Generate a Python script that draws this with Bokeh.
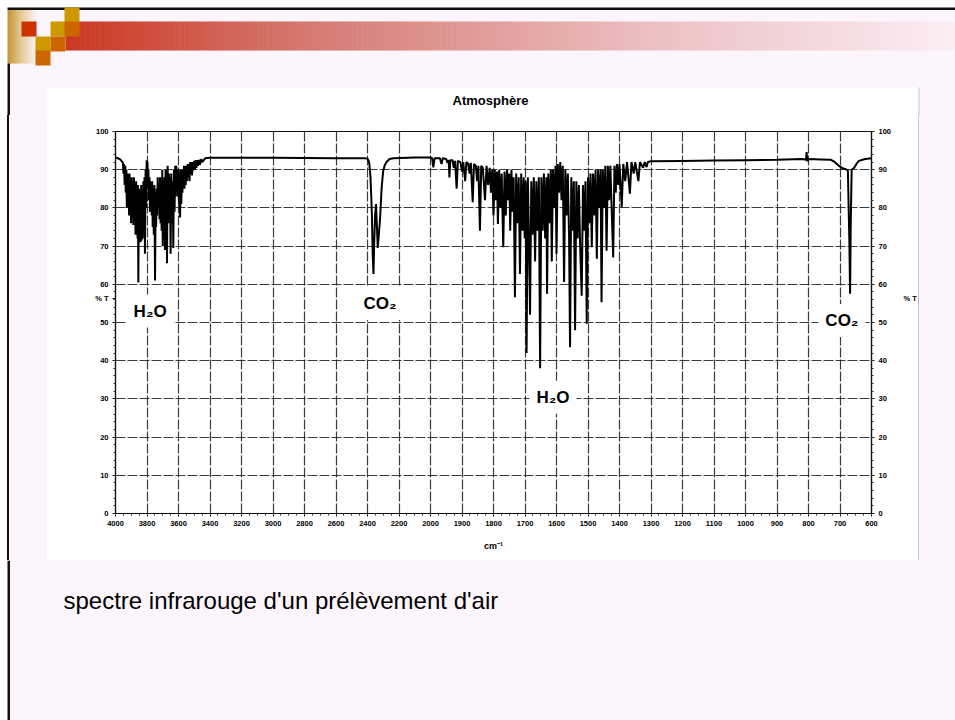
import numpy as np
from bokeh.plotting import figure
from bokeh.models import Range1d, FixedTicker, LinearAxis, Label, ColumnDataSource
from bokeh.layouts import column, row
from bokeh.embed import file_html
from bokeh.resources import INLINE
from bokeh.core.properties import value

# ---------------- data ----------------
chart_title = "Atmosphère"
caption_text = "spectre infrarouge d'un prélèvement d'air"
x_tick_values = [4000, 3800, 3600, 3400, 3200, 3000, 2800, 2600, 2400, 2200, 2000,
                 1900, 1800, 1700, 1600, 1500, 1400, 1300, 1200, 1100, 1000, 900, 800, 700, 600]
y_tick_values = [0, 10, 20, 30, 40, 50, 60, 70, 80, 90, 100]
y_axis_name_pos = 56.3

# H2O stretching region
wn_h2o_stretch = [4000, 3985, 3970, 3960,
    3953, 3950, 3946, 3942, 3938, 3935, 3931, 3928, 3924, 3921, 3917, 3914, 3911, 3908,
    3904, 3901, 3897, 3894, 3890, 3887, 3883, 3880, 3876, 3873, 3869, 3866, 3863, 3860,
    3858, 3855, 3851, 3848, 3844, 3841, 3837, 3834, 3830, 3827, 3823, 3820, 3816, 3813,
    3809, 3806, 3802, 3800, 3797, 3794, 3791, 3788, 3784, 3781, 3778, 3775, 3772, 3770,
    3767, 3764, 3760, 3757, 3753, 3749, 3745, 3742, 3739, 3736, 3732, 3728, 3724, 3721,
    3717, 3714, 3710, 3707, 3703, 3700, 3696, 3693, 3689, 3686, 3682, 3679, 3676, 3673,
    3669, 3665, 3661, 3658, 3654, 3650, 3646, 3642, 3637, 3633, 3629, 3625, 3621, 3618,
    3614, 3611, 3607, 3604, 3600, 3597, 3593, 3590, 3586, 3582, 3578, 3575, 3572, 3569,
    3565, 3562, 3558, 3554, 3550, 3546, 3542, 3538, 3534, 3530, 3526, 3522, 3518, 3514,
    3510, 3506, 3500, 3496, 3490, 3486, 3480, 3476, 3468, 3464, 3455, 3450, 3430, 3400,
    3000, 2600, 2420]
t_h2o_stretch = [93.2, 93.0, 92.7, 92.2,
    91.8, 89.0, 91.5, 86.0, 91.0, 84.0, 90.0, 80.0, 89.0, 83.0, 88.0, 78.0, 89.0, 80.0,
    87.0, 76.0, 88.0, 79.0, 86.0, 75.5, 88.0, 78.0, 86.0, 73.0, 87.0, 76.0, 85.0, 72.0,
    86.0, 60.5, 85.0, 74.0, 84.0, 71.0, 86.0, 71.5, 85.0, 72.0, 87.0, 74.0, 88.0, 68.0,
    90.0, 80.0, 92.5, 88.0, 92.0, 85.0, 90.0, 82.0, 88.0, 79.0, 87.0, 80.0, 86.0, 78.0,
    87.0, 75.0, 85.0, 73.0, 86.0, 61.0, 84.0, 75.0, 85.0, 78.0, 88.0, 82.0, 86.0, 77.0,
    88.0, 76.0, 86.0, 74.0, 90.0, 70.0, 87.0, 73.0, 88.0, 69.0, 90.0, 79.0, 89.0, 65.5,
    91.0, 76.0, 89.0, 78.0, 88.0, 68.0, 89.0, 76.0, 87.0, 69.5, 90.0, 79.0, 91.0, 83.0,
    91.0, 86.0, 90.0, 83.0, 90.0, 81.0, 89.0, 77.5, 90.0, 81.0, 90.0, 84.0, 90.0, 85.0,
    91.0, 85.0, 91.0, 86.0, 91.0, 87.0, 91.5, 88.0, 91.5, 87.0, 92.0, 89.0, 92.0, 88.5,
    92.0, 89.8, 92.3, 90.0, 92.5, 90.5, 92.5, 91.0, 92.6, 91.3, 92.8, 92.0, 93.0, 93.1,
    93.1, 93.0, 93.0]

# CO2 stretching band
wn_co2_stretch = [2400, 2395, 2388, 2381, 2376, 2372, 2367, 2362, 2358, 2352, 2346, 2340,
    2335, 2330, 2321, 2310, 2300, 2290, 2279, 2260, 2236, 2100, 2010]
t_co2_stretch = [92.9, 92.5, 91.5, 88.0, 83.0, 78.0, 68.0, 62.7, 70.0, 78.0, 81.0, 75.0,
    69.5, 72.0, 76.7, 85.4, 89.8, 91.2, 92.0, 92.8, 93.0, 93.2, 93.2]

# H2O bending region
wn_h2o_bend = [2000, 1995, 1991, 1987, 1970, 1965, 1961, 1950, 1946, 1942, 1940, 1937,
    1930, 1926, 1922, 1917, 1913, 1905, 1900, 1896, 1890, 1886, 1880, 1876, 1872, 1866,
    1862, 1856, 1852, 1848, 1843, 1839, 1834, 1827, 1822, 1817, 1812,
    1808, 1804, 1800, 1796, 1792, 1789, 1786, 1782, 1778, 1774, 1769, 1765, 1761, 1757,
    1753, 1750, 1747, 1743, 1740, 1736, 1732, 1728, 1724, 1720, 1716, 1712, 1708, 1704,
    1701, 1698, 1695, 1691, 1687, 1684, 1680, 1676, 1672, 1668, 1664, 1660, 1656, 1652,
    1648, 1644, 1640, 1636, 1632, 1630, 1626, 1622, 1618, 1615, 1611, 1607, 1603, 1600,
    1596, 1592, 1588, 1584, 1580, 1576, 1572, 1568, 1564, 1560, 1557, 1553, 1549, 1545,
    1541, 1537, 1533, 1529, 1525, 1520, 1516, 1512, 1508, 1504, 1500, 1496, 1492, 1488,
    1484, 1480, 1476, 1472, 1468, 1464, 1460, 1457, 1453, 1449, 1445, 1441, 1437, 1433,
    1429, 1425, 1420, 1416, 1412, 1408, 1404, 1400, 1393, 1388, 1382, 1376, 1367, 1362,
    1355, 1350, 1340, 1335, 1325, 1320, 1314, 1310, 1300]
t_h2o_bend = [93.2, 93.0, 90.6, 93.0, 93.0, 91.5, 93.0, 92.8, 91.8, 92.5, 88.0, 92.5,
    92.5, 90.5, 92.3, 85.0, 92.3, 92.0, 89.5, 92.0, 87.0, 92.0, 91.5, 89.0, 91.8, 81.5,
    91.5, 91.0, 87.0, 91.0, 74.0, 91.0, 90.5, 82.0, 91.0, 86.0, 90.5,
    84.0, 90.0, 78.0, 90.0, 82.0, 89.5, 75.8, 90.0, 80.0, 89.0, 69.7, 89.5, 78.0, 90.0,
    82.0, 89.0, 74.0, 90.0, 79.0, 88.0, 56.6, 89.0, 76.0, 88.0, 62.7, 89.0, 74.0, 88.0,
    72.0, 87.0, 42.0, 88.0, 70.0, 52.0, 87.0, 73.0, 88.0, 66.0, 87.0, 74.0, 88.0, 38.0,
    88.0, 74.0, 89.0, 72.0, 88.0, 57.5, 89.0, 76.0, 90.0, 66.0, 90.0, 80.0, 91.0, 68.0,
    91.5, 84.0, 92.0, 82.0, 91.0, 60.6, 90.0, 78.0, 89.0, 72.0, 43.5, 88.0, 74.0, 87.0,
    48.0, 87.0, 72.0, 86.0, 70.0, 57.0, 86.0, 74.0, 87.0, 49.7, 88.0, 76.0, 89.0, 69.7,
    89.0, 78.0, 90.0, 66.7, 90.0, 80.0, 90.0, 55.3, 90.0, 80.0, 91.0, 68.8, 91.0, 82.0,
    91.0, 80.0, 67.0, 91.0, 84.0, 91.5, 86.0, 91.5, 80.2, 91.5, 87.0, 92.0, 83.7, 92.0,
    89.0, 92.0, 87.0, 92.0, 90.5, 92.0, 90.7, 92.0, 92.2]

# fingerprint / CO2 bending region
wn_low = [1200, 1100, 1000, 900, 820, 808, 806, 804, 800, 760, 730, 720, 710, 700, 690,
    684, 675, 670, 668, 666, 663, 655, 648, 640, 620, 600]
t_low = [92.3, 92.4, 92.5, 92.6, 92.8, 92.6, 94.6, 92.2, 92.8, 92.7, 92.6, 92.2, 91.5,
    90.8, 90.3, 90.2, 89.8, 70.0, 57.5, 75.0, 90.0, 90.5, 91.5, 92.3, 92.8, 93.0]

band_labels = ["H₂O", "CO₂", "H₂O", "CO₂"]
band_label_wn = [3780, 2320, 1611, 694]
band_label_t = [53.0, 55.0, 30.4, 50.5]

# ---------------- helpers ----------------
def to_u(w):
    """Chart's split wavenumber axis: 200 cm-1 per division above 2000, 100 below."""
    return (4000 - w) / 200.0 if w >= 2000 else 10 + (2000 - w) / 100.0

wavenumber = wn_h2o_stretch + wn_co2_stretch + wn_h2o_bend + wn_low
transmittance = t_h2o_stretch + t_co2_stretch + t_h2o_bend + t_low
src = ColumnDataSource(dict(u=[to_u(w) for w in wavenumber], t=transmittance))

SLIDE = "#FCF6FC"
FONT = "Liberation Sans"
INK = "#111111"
EDGE = "#C8C4C8"


def deco_fig(w, h):
    f = figure(width=w, height=h, x_range=Range1d(0, w), y_range=Range1d(h, 0),
               x_axis_type=None, y_axis_type=None, toolbar_location=None,
               output_backend="svg", min_border=0, background_fill_color=SLIDE,
               border_fill_color=SLIDE, outline_line_color=None)
    f.xgrid.visible = False
    f.ygrid.visible = False
    return f


def box(f, l, r, t, b, c):
    f.quad(left=[l], right=[r], top=[t], bottom=[b], fill_color=c, line_color=None)


def gradient(f, x0, x1, y0, y1, stops, n):
    xs = np.linspace(x0, x1, n + 1)
    pos = np.array([s[0] for s in stops])
    cols = np.array([s[1] for s in stops], dtype=float)
    mids = (xs[:-1] + xs[1:]) / 2
    frac = (mids - x0) / (x1 - x0)
    colors = []
    for fr in frac:
        c = [np.interp(fr, pos, cols[:, k]) for k in range(3)]
        colors.append("#%02x%02x%02x" % tuple(int(round(v)) for v in c))
    f.quad(left=xs[:-1], right=xs[1:] + 0.6, top=[y0] * n, bottom=[y1] * n,
           fill_color=colors, line_color=None)

# ---------------- top decoration (also holds the chart title band) ----------------
TOP_H = 115
top = deco_fig(955, TOP_H)
box(top, 0, 955, 0, 7, "white")
box(top, 0, 7, 0, TOP_H, "white")
box(top, 7, 955, 7, 9.5, INK)
gradient(top, 7, 37, 9.5, 63, [(0, (196, 150, 50)), (0.5, (232, 205, 160)), (1, (252, 246, 252))], 20)
gradient(top, 65, 955, 21, 50, [(0, (204, 56, 34)), (0.29, (214, 125, 118)),
                                 (0.65, (236, 190, 192)), (1, (250, 238, 244))], 180)
box(top, 7, 9.5, 63, TOP_H, INK)
sq_l = [21, 64, 50, 64, 35, 50, 35]
sq_t = [21, 7, 21, 21, 36, 36, 50]
sq_c = ["#CC3300", "#CC9900", "#CC9900", "#CC6600", "#CC9900", "#CC6600", "#CC6600"]
top.quad(left=sq_l, right=[v + 15 for v in sq_l], top=sq_t, bottom=[v + 15 for v in sq_t],
         fill_color=sq_c, line_color=None)
box(top, 47, 918, 87, TOP_H, "white")
box(top, 918, 919, 87, TOP_H, EDGE)
top.text(x=[490], y=[100], text=[chart_title], text_font=value(FONT), text_font_size="13px",
         text_font_style="bold", text_align="center", text_baseline="middle", text_color="black")

# ---------------- chart (full-width middle band) ----------------
MID_H = 445
band_css = ("linear-gradient(to right, #ffffff 0px, #ffffff 7px, %s 7px, %s 9.5px, %s 9.5px, "
            "%s 47px, #ffffff 47px, #ffffff 918px, %s 918px, %s 919px, %s 919px, %s 955px)"
            % (INK, INK, SLIDE, SLIDE, EDGE, EDGE, SLIDE, SLIDE))
p = figure(width=955, height=MID_H, x_range=Range1d(0, 24), y_range=Range1d(0, 100),
           toolbar_location=None, output_backend="svg",
           min_border_left=115, min_border_right=84, min_border_top=16, min_border_bottom=47,
           background_fill_color="white", border_fill_color=None, border_fill_alpha=0,
           outline_line_color=INK, outline_line_width=1.2)
p.styles = {"background": band_css}

xt = FixedTicker(ticks=[to_u(v) for v in x_tick_values],
                 minor_ticks=list(np.arange(0, 24.01, 0.25)))
yt_left = FixedTicker(ticks=y_tick_values + [y_axis_name_pos], minor_ticks=list(range(0, 101, 2)))
yt_right = FixedTicker(ticks=y_tick_values, minor_ticks=list(range(0, 101, 2)))
p.xaxis.ticker = xt
p.yaxis.ticker = yt_left
p.ygrid.ticker = FixedTicker(ticks=y_tick_values)
p.xgrid.ticker = FixedTicker(ticks=[to_u(v) for v in x_tick_values])
p.xaxis.major_label_overrides = {to_u(v): str(v) for v in x_tick_values}
p.yaxis.major_label_overrides = {y_axis_name_pos: "% T"}
p.xaxis.axis_label = "cm⁻¹"
p.xaxis.axis_label_text_font = FONT
p.xaxis.axis_label_text_font_size = "9px"
p.xaxis.axis_label_text_font_style = "bold"
p.xaxis.axis_label_text_color = "black"
p.xaxis.axis_label_standoff = 12

ry = LinearAxis(ticker=yt_right)
p.add_layout(ry, "right")
ry_name = LinearAxis(ticker=FixedTicker(ticks=[y_axis_name_pos]),
                     major_label_overrides={y_axis_name_pos: "% T"},
                     axis_line_color=None, major_tick_line_color=None, minor_tick_line_color=None,
                     major_label_standoff=3, major_label_text_font=FONT,
                     major_label_text_font_size="7.5px", major_label_text_font_style="bold",
                     major_label_text_color="black")
p.add_layout(ry_name, "right")

for ax in [p.xaxis[0], p.yaxis[0], ry]:
    ax.major_label_text_font = FONT
    ax.major_label_text_font_size = "7.5px"
    ax.major_label_text_font_style = "bold"
    ax.major_label_text_color = "black"
    ax.axis_line_color = INK
    ax.axis_line_width = 1.2
    ax.major_tick_line_color = INK
    ax.minor_tick_line_color = "#333333"
    ax.major_tick_out = 3
    ax.major_tick_in = 0
    ax.minor_tick_out = 2
    ax.minor_tick_in = 0
    ax.major_label_standoff = 4

for g in [p.xgrid[0], p.ygrid[0]]:
    g.grid_line_color = "#1a1a1a"
    g.grid_line_alpha = 0.85
    g.grid_line_width = 1.2
    g.grid_line_dash = "10 2"

p.line(x="u", y="t", source=src, line_color="black", line_width=2.0)

for txt, w, t in zip(band_labels, band_label_wn, band_label_t):
    p.add_layout(Label(x=to_u(w), y=t, text=txt, text_align="center", text_baseline="middle",
                       text_font=FONT, text_font_size="17px", text_font_style="bold",
                       text_color="black", background_fill_color="white",
                       background_fill_alpha=1.0, padding=7))

# ---------------- bottom with caption ----------------
BOT_H = 160
bot = deco_fig(955, BOT_H)
box(bot, 0, 7, 0, BOT_H, "white")
box(bot, 7, 9.5, 0, BOT_H, INK)
bot.text(x=[63], y=[40], text=[caption_text], text_font=value(FONT), text_font_size="24px",
         text_align="left", text_baseline="middle", text_color="black")

# wrapping the chart in its own row keeps the decoration frames from aligning with it
layout = column(top, row(p), bot)
open("out.html", "w").write(file_html(layout, INLINE))
